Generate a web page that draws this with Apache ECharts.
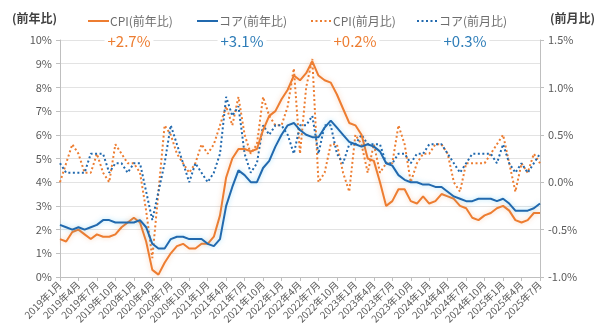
<!DOCTYPE html>
<html>
<head>
<meta charset="utf-8">
<script src="https://cdn.jsdelivr.net/npm/echarts@6/dist/echarts.min.js"></script>
<style>
html,body{margin:0;padding:0;background:#fff;}
#chart{width:600px;height:330px;}
</style>
</head>
<body>
<div id="chart"></div>
<script>
// categories: 2019年1月 .. 2025年7月
const months = [];
for (let y = 2019; y <= 2025; y++) {
  for (let m = 1; m <= 12; m++) {
    if (y === 2025 && m > 7) break;
    months.push(y + '年' + m + '月');
  }
}
const cpiYoY = [
  1.6,1.5,1.9,2.0,1.8,1.6,1.8,1.7,1.7,1.8,2.1,2.3,
  2.5,2.3,1.5,0.3,0.1,0.6,1.0,1.3,1.4,1.2,1.2,1.4,
  1.4,1.7,2.6,4.2,5.0,5.4,5.4,5.3,5.4,6.2,6.8,7.0,
  7.5,7.9,8.5,8.3,8.6,9.1,8.5,8.3,8.2,7.7,7.1,6.5,
  6.4,6.0,5.0,4.9,4.0,3.0,3.2,3.7,3.7,3.2,3.1,3.4,
  3.1,3.2,3.5,3.4,3.3,3.0,2.9,2.5,2.4,2.6,2.7,2.9,
  3.0,2.8,2.4,2.3,2.4,2.7,2.7
];
const coreYoY = [
  2.2,2.1,2.0,2.1,2.0,2.1,2.2,2.4,2.4,2.3,2.3,2.3,
  2.3,2.4,2.1,1.4,1.2,1.2,1.6,1.7,1.7,1.6,1.6,1.6,
  1.4,1.3,1.6,3.0,3.8,4.5,4.3,4.0,4.0,4.6,4.9,5.5,
  6.0,6.4,6.5,6.2,6.0,5.9,5.9,6.3,6.6,6.3,6.0,5.7,
  5.6,5.5,5.6,5.5,5.3,4.8,4.7,4.3,4.1,4.0,4.0,3.9,
  3.9,3.8,3.8,3.6,3.4,3.3,3.2,3.2,3.3,3.3,3.3,3.2,
  3.3,3.1,2.8,2.8,2.8,2.9,3.1
];
const cpiMoM = [
  0.0,0.2,0.4,0.3,0.1,0.1,0.3,0.1,0.0,0.4,0.3,0.2,
  0.2,0.1,-0.3,-0.8,-0.1,0.6,0.5,0.3,0.2,0.1,0.2,0.4,
  0.3,0.4,0.6,0.8,0.6,0.9,0.5,0.3,0.4,0.9,0.7,0.6,
  0.6,0.8,1.2,0.3,1.0,1.3,0.0,0.1,0.4,0.4,0.1,-0.1,
  0.5,0.4,0.1,0.4,0.1,0.2,0.2,0.6,0.4,0.0,0.2,0.3,
  0.3,0.4,0.4,0.3,0.0,-0.1,0.2,0.2,0.2,0.2,0.3,0.4,
  0.5,0.2,-0.1,0.2,0.1,0.3,0.2
];
const coreMoM = [
  0.2,0.1,0.1,0.1,0.1,0.3,0.3,0.3,0.1,0.2,0.2,0.1,
  0.2,0.2,-0.1,-0.4,-0.1,0.2,0.6,0.4,0.2,0.0,0.2,0.1,
  0.0,0.1,0.3,0.9,0.7,0.8,0.3,0.1,0.2,0.6,0.5,0.6,
  0.6,0.5,0.3,0.6,0.6,0.7,0.3,0.6,0.6,0.3,0.2,0.4,
  0.4,0.5,0.4,0.4,0.4,0.2,0.2,0.3,0.3,0.2,0.3,0.3,
  0.4,0.4,0.4,0.3,0.2,0.1,0.2,0.3,0.3,0.3,0.3,0.2,
  0.4,0.2,0.1,0.2,0.1,0.2,0.3
];
const seriesNames = ['CPI(前年比)', 'コア(前年比)', 'CPI(前月比)', 'コア(前月比)'];
const leftTicks = [0,1,2,3,4,5,6,7,8,9,10];
const rightTicks = [-1.0,-0.5,0.0,0.5,1.0,1.5];

const ORANGE = '#ED7D31';
const BLUE = '#2169AE';
const FONT = '"Noto Sans CJK JP", "Noto Sans", sans-serif';

function latest(arr){ const v = arr[arr.length-1]; return (v >= 0 ? '+' : '') + v.toFixed(1) + '%'; }

const chart = echarts.init(document.getElementById('chart'), null, {renderer:'canvas'});

// hand-drawn legend (icon + name), one group per series
const legendColors = [ORANGE, BLUE, ORANGE, BLUE];
const legendDash = [null, null, [2, 2.5], [2, 2.5]];
const legendPos = [88, 197, 311, 417];
const legendGraphics = seriesNames.map((n, i) => ({
  type: 'group', x: legendPos[i], y: 21,
  children: [
    {type: 'line', shape: {x1: 0, y1: 0, x2: 21, y2: 0},
     style: {stroke: legendColors[i], lineWidth: 2, lineDash: legendDash[i]}},
    {type: 'text', x: 22, y: 0,
     style: {text: n, font: '12px ' + FONT, fill: '#6e6e6e', verticalAlign: 'middle', align: 'left'}}
  ]
}));

const valueCenters = [129, 242, 355, 465];
const valueColors = [ORANGE, '#2E7DB8', ORANGE, '#2E7DB8'];
const valueArrays = [cpiYoY, coreYoY, cpiMoM, coreMoM];

chart.setOption({
  animation: false,
  textStyle: {fontFamily: FONT},
  grid: {left: 60, right: 60, top: 40, bottom: 53},
  graphic: [
    {type:'text', left: 12, top: 12, style:{text:'(前年比)', font:'bold 12px ' + FONT, fill:'#404040'}},
    {type:'text', right: 5, top: 12, style:{text:'(前月比)', font:'bold 12px ' + FONT, fill:'#404040'}}
  ].concat(legendGraphics).concat(valueArrays.map((a, i) => ({
    type:'text', x: valueCenters[i], y: 41, z: 100,
    style:{text: latest(a), font: '15px ' + FONT, fill: valueColors[i], align:'center', verticalAlign:'middle',
           backgroundColor:'#fff', padding:[0,3]}
  }))),
  xAxis: {
    type: 'category', data: months, boundaryGap: false,
    axisLine: {lineStyle: {color: '#bfbfbf'}},
    axisTick: {interval: 2, length: 4, lineStyle: {color: '#bfbfbf'}},
    axisLabel: {interval: 2, rotate: 45, fontSize: 10, color: '#595959', margin: 6, fontFamily: FONT}
  },
  yAxis: [
    {
      type: 'value', min: leftTicks[0], max: leftTicks[leftTicks.length-1], interval: 1,
      axisLine: {show: true, lineStyle: {color: '#bfbfbf'}},
      axisTick: {show: true, length: 4, lineStyle: {color: '#bfbfbf'}},
      axisLabel: {formatter: v => v + '%', fontSize: 11, color: '#595959', margin: 8, fontFamily: FONT},
      splitLine: {lineStyle: {color: '#e3e3e3'}}
    },
    {
      type: 'value', min: rightTicks[0], max: rightTicks[rightTicks.length-1], interval: 0.5,
      axisLine: {show: true, lineStyle: {color: '#bfbfbf'}},
      axisTick: {show: true, length: 4, lineStyle: {color: '#bfbfbf'}},
      axisLabel: {formatter: v => v.toFixed(1) + '%', fontSize: 11, color: '#595959', margin: 8, fontFamily: FONT},
      splitLine: {show: false}
    }
  ],
  series: [
    {name: seriesNames[0], type:'line', data: cpiYoY, yAxisIndex: 0, symbol:'none', color: ORANGE,
     lineStyle:{width: 2, color: ORANGE, shadowColor:'rgba(237,125,49,0.35)', shadowBlur: 5}, z: 4},
    {name: seriesNames[1], type:'line', data: coreYoY, yAxisIndex: 0, symbol:'none', color: BLUE,
     lineStyle:{width: 2, color: BLUE, shadowColor:'rgba(0,170,240,0.35)', shadowBlur: 5}, z: 5},
    {name: seriesNames[2], type:'line', data: cpiMoM, yAxisIndex: 1, symbol:'none', color: ORANGE,
     lineStyle:{width: 2, color: ORANGE, type: [2, 2.5]}, z: 2},
    {name: seriesNames[3], type:'line', data: coreMoM, yAxisIndex: 1, symbol:'none', color: BLUE,
     lineStyle:{width: 2, color: BLUE, type: [2, 2.5]}, z: 3}
  ]
});
</script>
</body>
</html>
